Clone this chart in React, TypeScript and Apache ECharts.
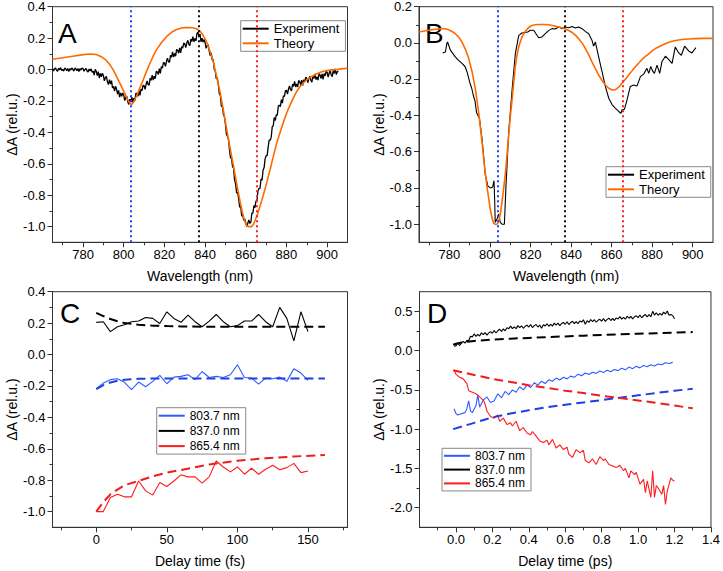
import React, { useEffect, useRef } from 'react';
import * as echarts from 'echarts';

const FONT = '"Liberation Sans", Arial, Helvetica, sans-serif';

// ---------- Panels A / B : spectra ----------
const MARKER_WL = [803.7, 837.0, 865.4];
const MARKER_COLORS = ['#1f3fff', '#111111', '#ff2020'];

const EXP_A_START = 765; // first sample (nm)
const EXP_A_STEP = 0.5;  // sampling (nm)
const EXP_A = [
0.006,-0.009,0.003,0.01,-0.005,-0.011,0.008,-0.002,0.012,-0.007,
0.001,-0.01,0.009,0.004,-0.008,0.006,-0.012,0.005,-0.003,0.01,
0.001,-0.01,0.009,0.004,-0.008,0.006,-0.012,0.005,-0.003,0.01,
0.006,-0.011,0.0,0.007,-0.009,-0.016,0.003,-0.009,0.004,-0.017,
-0.01,-0.035,0.001,-0.012,-0.039,-0.014,-0.054,-0.025,-0.046,-0.024,
-0.038,-0.072,-0.052,-0.043,-0.078,-0.096,-0.064,-0.092,-0.071,-0.117,
-0.108,-0.138,-0.107,-0.125,-0.156,-0.133,-0.176,-0.149,-0.171,-0.149,
-0.163,-0.198,-0.179,-0.17,-0.205,-0.222,-0.189,-0.207,-0.176,-0.207,
-0.183,-0.197,-0.15,-0.154,-0.171,-0.135,-0.164,-0.124,-0.134,-0.101,
-0.103,-0.126,-0.094,-0.073,-0.095,-0.1,-0.054,-0.069,-0.036,-0.067,
-0.043,-0.058,-0.012,-0.015,-0.031,0.006,-0.024,0.018,0.009,0.044,
0.042,0.02,0.051,0.073,0.05,0.046,0.091,0.078,0.112,0.08,
0.102,0.085,0.128,0.123,0.104,0.138,0.106,0.146,0.136,0.168,
0.164,0.139,0.168,0.186,0.16,0.152,0.194,0.178,0.21,0.177,
0.198,0.183,0.228,0.238,0.209,0.226,0.176,0.2,0.174,0.191,
0.172,0.135,0.151,0.158,0.12,0.088,0.106,0.061,0.064,0.001,
-0.008,-0.06,-0.052,-0.097,-0.156,-0.162,-0.234,-0.235,-0.286,-0.299,
-0.348,-0.413,-0.424,-0.445,-0.51,-0.562,-0.564,-0.619,-0.626,-0.704,
-0.728,-0.785,-0.782,-0.822,-0.876,-0.872,-0.934,-0.922,-0.961,-0.951,
-0.978,-0.999,-0.979,-0.957,-0.98,-0.972,-0.914,-0.914,-0.866,-0.879,
-0.838,-0.835,-0.772,-0.757,-0.756,-0.697,-0.704,-0.64,-0.626,-0.569,
-0.548,-0.548,-0.494,-0.45,-0.45,-0.432,-0.364,-0.359,-0.306,-0.324,
-0.288,-0.29,-0.232,-0.227,-0.236,-0.192,-0.214,-0.168,-0.171,-0.134,
-0.133,-0.156,-0.124,-0.104,-0.128,-0.135,-0.092,-0.108,-0.076,-0.111,
-0.092,-0.111,-0.07,-0.078,-0.099,-0.067,-0.101,-0.065,-0.078,-0.049,
-0.056,-0.084,-0.058,-0.042,-0.07,-0.08,-0.04,-0.058,-0.028,-0.064,
-0.046,-0.067,-0.027,-0.035,-0.057,-0.027,-0.062,-0.026,-0.04,-0.012,
-0.019,-0.048,-0.022,-0.007,-0.035,-0.046,-0.006,-0.025,0.005,-0.032,
-0.014,-0.009];

const THEORY_A = [[765,0.065],[770,0.075],[775,0.085],[780,0.095],[783.5,0.099],[786.5,0.096],[789,0.082],[791.5,0.058],[793.5,0.025],[795,-0.005],[796.5,-0.045],[798,-0.085],[799.5,-0.125],[801,-0.165],[802.5,-0.205],[803.8,-0.224],[805,-0.205],[806.3,-0.17],[808,-0.115],[809.6,-0.065],[811.2,-0.012],[812.9,0.04],[814.5,0.085],[816.1,0.125],[818.5,0.17],[821,0.209],[823.5,0.237],[826,0.255],[828.5,0.265],[831,0.268],[834,0.266],[836,0.258],[837.5,0.245],[839,0.218],[840.7,0.177],[842.3,0.12],[844,0.05],[845.6,-0.04],[847.3,-0.14],[849,-0.26],[850.6,-0.38],[852.2,-0.495],[853.9,-0.61],[855.5,-0.725],[857.2,-0.84],[858.5,-0.92],[859.6,-0.97],[860.5,-0.995],[861.3,-1.0],[862.9,-1.0],[863.8,-0.985],[864.6,-0.96],[865.8,-0.92],[867,-0.87],[868.6,-0.8],[870.3,-0.72],[872,-0.635],[873.6,-0.55],[875.2,-0.47],[876.9,-0.4],[878.5,-0.335],[880.1,-0.277],[881.8,-0.225],[883.4,-0.18],[885,-0.14],[886.7,-0.108],[888.3,-0.085],[890,-0.065],[892.5,-0.044],[894.9,-0.027],[897.4,-0.014],[899.8,-0.006],[902,-0.002],[904.7,0.0],[907,0.004],[910,0.008]];

const EXP_B = [[776.7,-0.055],[778.0,-0.05],[778.8,0.0],[779.1,0.005],[780.5,-0.04],[782.9,-0.077],[784.4,-0.095],[786.2,-0.113],[787.7,-0.13],[788.7,-0.16],[790.1,-0.22],[791.0,-0.25],[791.8,-0.29],[792.6,-0.32],[793.4,-0.385],[794.8,-0.415],[796.1,-0.53],[797.0,-0.64],[797.7,-0.73],[799.0,-0.79],[800.2,-0.8],[801.3,-0.795],[802.0,-0.76],[802.3,-0.86],[802.6,-0.99],[803.5,-0.97],[804.3,-0.945],[805.1,-0.99],[805.9,-1.0],[807.1,-1.0],[807.9,-0.79],[809.2,-0.5],[810.9,-0.26],[812.5,-0.06],[814.2,0.042],[815.8,0.055],[817.4,0.058],[818.6,0.06],[819.9,0.07],[821.6,0.07],[822.7,0.051],[824.0,0.029],[825.7,0.033],[827.3,0.051],[828.9,0.068],[830.6,0.079],[832.2,0.077],[833.9,0.088],[835.5,0.079],[837.2,0.088],[838.8,0.084],[840.5,0.091],[842.1,0.082],[843.7,0.088],[845.4,0.079],[847.0,0.064],[848.7,0.051],[850.3,0.015],[851.1,-0.018],[852.0,0.005],[853.6,-0.077],[855.3,-0.16],[856.9,-0.24],[858.6,-0.305],[860.2,-0.34],[861.8,-0.36],[863.5,-0.378],[864.6,-0.388],[865.1,-0.37],[866.3,-0.366],[867.6,-0.314],[869.2,-0.24],[870.9,-0.232],[872.5,-0.238],[874.2,-0.186],[875.8,-0.172],[877.4,-0.14],[878.3,-0.168],[879.3,-0.13],[880.2,-0.154],[881.1,-0.168],[882.4,-0.122],[883.7,-0.168],[884.8,-0.104],[886.5,-0.073],[888.1,-0.091],[889.8,-0.113],[891.4,-0.022],[893.1,-0.055],[894.4,-0.068],[896.0,-0.018],[898.0,-0.044],[899.6,-0.055],[901.6,-0.026]];

const THEORY_B = [[765,0.06],[769.8,0.07],[773,0.076],[776.3,0.079],[778,0.078],[779.6,0.073],[781.3,0.063],[782.9,0.051],[784.6,0.032],[786.2,0.005],[787.9,-0.035],[789.5,-0.085],[791.2,-0.16],[792.8,-0.255],[794.5,-0.39],[796.1,-0.55],[797.3,-0.68],[798.5,-0.79],[799.4,-0.86],[800.2,-0.92],[801,-0.965],[801.8,-0.995],[802.6,-1.0],[803.5,-1.0],[804.1,-0.99],[804.6,-0.97],[805.3,-0.93],[805.9,-0.88],[806.8,-0.8],[807.6,-0.72],[808.4,-0.62],[809.2,-0.515],[810,-0.41],[810.9,-0.314],[811.7,-0.22],[812.5,-0.13],[813.3,-0.07],[814.2,-0.022],[815,0.008],[815.8,0.033],[817.4,0.064],[819.1,0.085],[820.7,0.096],[822.4,0.1],[824,0.102],[826.5,0.102],[828.9,0.1],[831.4,0.095],[833.9,0.088],[835.5,0.084],[837.2,0.077],[838.8,0.069],[840.5,0.058],[842.1,0.043],[843.7,0.024],[845.4,0.0],[847,-0.03],[848.7,-0.065],[850.3,-0.104],[852,-0.142],[853.6,-0.177],[855.3,-0.207],[856.9,-0.232],[858.6,-0.25],[860.2,-0.26],[861.4,-0.26],[862.6,-0.252],[863.9,-0.24],[865.1,-0.223],[866.8,-0.2],[868.4,-0.177],[870.1,-0.154],[871.7,-0.132],[873.4,-0.111],[875,-0.091],[876.7,-0.074],[878.3,-0.06],[880,-0.044],[881.6,-0.031],[884.8,-0.013],[887.3,0.0],[889.8,0.009],[892.3,0.015],[894.7,0.019],[898,0.022],[901.3,0.024],[905,0.025],[910,0.025]];

// ---------- Panel C : femtosecond kinetics ----------
const C_TIME = [0,5,10,15,20,25,30,35,40,45,50,55,60,65,70,75,80,85,90,95,100,105,110,115,120,125,130,135,140,145,150];
const C_803 = [-0.217,-0.182,-0.16,-0.154,-0.177,-0.224,-0.175,-0.205,-0.171,-0.133,-0.186,-0.144,-0.139,-0.129,-0.16,-0.108,-0.146,-0.139,-0.146,-0.129,-0.065,-0.146,-0.15,-0.188,-0.15,-0.154,-0.144,-0.171,-0.091,-0.118,-0.165];
const C_837 = [0.205,0.209,0.146,0.177,0.19,0.209,0.213,0.236,0.23,0.198,0.272,0.23,0.205,0.251,0.209,0.177,0.213,0.255,0.209,0.177,0.184,0.213,0.213,0.255,0.209,0.177,0.3,0.23,0.087,0.272,0.146];
const C_865 = [-1.0,-1.0,-0.91,-0.889,-0.906,-0.906,-0.805,-0.868,-0.895,-0.815,-0.84,-0.805,-0.766,-0.779,-0.779,-0.819,-0.779,-0.678,-0.716,-0.747,-0.716,-0.762,-0.724,-0.762,-0.73,-0.705,-0.734,-0.72,-0.693,-0.752,-0.741];
const C_FIT_TIME = [0,5,10,15,20,30,40,50,60,80,100,120,140,162];
const C_FIT_803 = [-0.22,-0.195,-0.178,-0.167,-0.16,-0.155,-0.153,-0.152,-0.152,-0.152,-0.152,-0.152,-0.152,-0.152];
const C_FIT_837 = [0.265,0.245,0.226,0.212,0.2,0.19,0.184,0.181,0.179,0.177,0.177,0.177,0.177,0.177];
const C_FIT_865 = [-1.0,-0.94,-0.89,-0.86,-0.832,-0.805,-0.775,-0.752,-0.735,-0.7,-0.676,-0.661,-0.649,-0.64];

// ---------- Panel D : picosecond kinetics ----------
const D_837_START = -0.01; // ps, 0.01 ps sampling
const D_837_STEP = 0.01;
const D_837 = [
0.055,0.06,0.097,0.065,0.095,0.118,0.095,0.13,0.125,0.182,
0.175,0.212,0.182,0.206,0.186,0.226,0.202,0.228,0.198,0.226,
0.241,0.22,0.256,0.224,0.253,0.272,0.245,0.276,0.252,0.29,
0.279,0.312,0.28,0.302,0.28,0.318,0.292,0.316,0.284,0.31,
0.323,0.3,0.331,0.294,0.318,0.332,0.3,0.326,0.285,0.33,
0.314,0.342,0.31,0.333,0.312,0.35,0.325,0.349,0.318,0.344,
0.358,0.335,0.368,0.332,0.358,0.373,0.343,0.37,0.343,0.377,
0.363,0.392,0.335,0.381,0.359,0.396,0.37,0.393,0.361,0.386,
0.399,0.375,0.408,0.372,0.398,0.413,0.383,0.41,0.383,0.417,
0.403,0.432,0.4,0.422,0.4,0.438,0.412,0.436,0.404,0.43,
0.443,0.42,0.453,0.418,0.444,0.46,0.43,0.458,0.431,0.5,
0.452,0.482,0.45,0.473,0.452,0.49,0.465,0.505,0.45,0.459,
0.445,0.405];
const D_803 = [[-0.01,-0.74],[0.0,-0.8],[0.01,-0.82],[0.03,-0.805],[0.05,-0.79],[0.06,-0.74],[0.07,-0.64],[0.08,-0.77],[0.09,-0.79],[0.11,-0.7],[0.12,-0.56],[0.13,-0.72],[0.15,-0.63],[0.17,-0.59],[0.19,-0.66],[0.21,-0.64],[0.23,-0.55],[0.25,-0.6],[0.27,-0.52],[0.29,-0.56],[0.31,-0.5],[0.33,-0.53],[0.35,-0.46],[0.37,-0.5],[0.39,-0.44],[0.41,-0.47],[0.43,-0.41],[0.45,-0.44],[0.47,-0.39],[0.49,-0.42],[0.51,-0.37],[0.53,-0.39],[0.55,-0.35],[0.57,-0.375],[0.59,-0.34],[0.61,-0.36],[0.63,-0.325],[0.65,-0.34],[0.67,-0.3],[0.69,-0.32],[0.71,-0.285],[0.73,-0.305],[0.75,-0.275],[0.77,-0.29],[0.79,-0.26],[0.81,-0.28],[0.83,-0.25],[0.85,-0.27],[0.87,-0.24],[0.89,-0.255],[0.91,-0.225],[0.93,-0.245],[0.95,-0.21],[0.97,-0.23],[0.99,-0.2],[1.01,-0.22],[1.03,-0.19],[1.05,-0.205],[1.07,-0.18],[1.09,-0.195],[1.11,-0.17],[1.13,-0.18],[1.15,-0.155],[1.17,-0.165],[1.19,-0.15]];
const D_865 = [[-0.01,-0.25],[0.0,-0.3],[0.02,-0.34],[0.04,-0.36],[0.06,-0.42],[0.07,-0.51],[0.09,-0.53],[0.11,-0.55],[0.13,-0.59],[0.15,-0.63],[0.16,-0.68],[0.17,-0.77],[0.19,-0.84],[0.21,-0.86],[0.23,-0.82],[0.24,-0.9],[0.26,-0.86],[0.28,-0.94],[0.3,-0.92],[0.31,-0.96],[0.33,-0.9],[0.35,-1.02],[0.37,-0.98],[0.39,-1.05],[0.41,-1.07],[0.42,-1.03],[0.44,-1.09],[0.46,-1.15],[0.48,-1.17],[0.5,-1.14],[0.51,-1.2],[0.53,-1.13],[0.55,-1.24],[0.57,-1.2],[0.59,-1.26],[0.61,-1.23],[0.62,-1.32],[0.64,-1.36],[0.66,-1.26],[0.68,-1.3],[0.7,-1.27],[0.71,-1.4],[0.73,-1.43],[0.75,-1.38],[0.77,-1.45],[0.79,-1.35],[0.81,-1.4],[0.82,-1.38],[0.84,-1.45],[0.86,-1.47],[0.88,-1.49],[0.9,-1.46],[0.92,-1.53],[0.93,-1.5],[0.95,-1.62],[0.96,-1.53],[0.98,-1.58],[0.99,-1.55],[1.01,-1.7],[1.03,-1.64],[1.04,-1.81],[1.05,-1.66],[1.07,-1.87],[1.08,-1.53],[1.09,-1.87],[1.1,-1.72],[1.11,-1.75],[1.13,-1.83],[1.14,-1.72],[1.15,-1.96],[1.16,-1.79],[1.18,-1.62],[1.19,-1.65],[1.2,-1.66]];
const D_FIT_837 = [[-0.015,0.075],[0.0,0.088],[0.03,0.102],[0.06,0.112],[0.1,0.123],[0.2,0.14],[0.3,0.152],[0.4,0.162],[0.5,0.172],[0.6,0.181],[0.7,0.19],[0.8,0.199],[0.9,0.207],[1.0,0.215],[1.1,0.222],[1.2,0.229],[1.3,0.236]];
const D_FIT_803 = [[-0.015,-1.0],[0.1,-0.92],[0.2,-0.85],[0.3,-0.8],[0.4,-0.76],[0.5,-0.72],[0.6,-0.69],[0.7,-0.66],[0.8,-0.63],[0.9,-0.6],[1.0,-0.57],[1.1,-0.54],[1.2,-0.51],[1.3,-0.487]];
const D_FIT_865 = [[-0.015,-0.25],[0.1,-0.31],[0.2,-0.36],[0.3,-0.4],[0.4,-0.44],[0.5,-0.475],[0.6,-0.51],[0.7,-0.54],[0.8,-0.575],[0.9,-0.605],[1.0,-0.635],[1.1,-0.665],[1.2,-0.7],[1.3,-0.735]];

// ---------- Axis tick labels ----------
const WL_TICKS = [780, 800, 820, 840, 860, 880, 900];
const WL_MINOR = [770, 790, 810, 830, 850, 870, 890];
const AY_TICKS = [0.4, 0.2, 0.0, -0.2, -0.4, -0.6, -0.8, -1.0];
const AY_MINOR = [0.3, 0.1, -0.1, -0.3, -0.5, -0.7, -0.9];
const BY_TICKS = [0.2, 0.0, -0.2, -0.4, -0.6, -0.8, -1.0];
const BY_MINOR = [0.1, -0.1, -0.3, -0.5, -0.7, -0.9];
const CX_TICKS = [0, 50, 100, 150];
const CX_MINOR = [-25, 25, 75, 125, 175];
const DX_TICKS = [0.0, 0.2, 0.4, 0.6, 0.8, 1.0, 1.2, 1.4];
const DX_MINOR = [-0.1, 0.1, 0.3, 0.5, 0.7, 0.9, 1.1, 1.3];
const DY_TICKS = [0.5, 0.0, -0.5, -1.0, -1.5, -2.0];
const DY_MINOR = [0.25, -0.25, -0.75, -1.25, -1.75];

const AXIS_COLOR = '#333';

function xAxes(g: number, min: number, max: number, ticks: number[], minor: number[], name: string, fmt: (v: number) => string) {
  return [
    {
      type: 'value', gridIndex: g, min, max, position: 'bottom',
      axisLine: { show: true, onZero: false, lineStyle: { color: AXIS_COLOR, width: 1 } },
      axisTick: { show: true, inside: false, length: 5, customValues: ticks, lineStyle: { color: AXIS_COLOR } },
      axisLabel: { customValues: ticks, formatter: fmt, fontSize: 13, color: '#000', margin: 6, fontFamily: FONT },
      splitLine: { show: false },
      name, nameLocation: 'middle', nameGap: 27,
      nameTextStyle: { fontSize: 14, color: '#000', fontFamily: FONT },
    },
    {
      type: 'value', gridIndex: g, min, max, position: 'bottom',
      axisLine: { show: false, onZero: false },
      axisTick: { show: true, inside: false, length: 3, customValues: minor, lineStyle: { color: AXIS_COLOR } },
      axisLabel: { show: false },
      splitLine: { show: false },
    },
  ];
}

function yAxes(g: number, min: number, max: number, ticks: number[], minor: number[], nameGap: number) {
  return [
    {
      type: 'value', gridIndex: g, min, max, position: 'left',
      axisLine: { show: true, onZero: false, lineStyle: { color: AXIS_COLOR, width: 1 } },
      axisTick: { show: true, inside: false, length: 5, customValues: ticks, lineStyle: { color: AXIS_COLOR } },
      axisLabel: { customValues: ticks, formatter: (v: number) => v.toFixed(1), fontSize: 13, color: '#000', margin: 7, fontFamily: FONT },
      splitLine: { show: false },
      name: 'ΔA (rel.u.)', nameLocation: 'middle', nameGap,
      nameTextStyle: { fontSize: 14, color: '#000', fontFamily: FONT },
    },
    {
      type: 'value', gridIndex: g, min, max, position: 'left',
      axisLine: { show: false, onZero: false },
      axisTick: { show: true, inside: false, length: 3, customValues: minor, lineStyle: { color: AXIS_COLOR } },
      axisLabel: { show: false },
      splitLine: { show: false },
    },
  ];
}

function line(name: string, g: number, data: number[][], color: string, width: number, dashed = false, extra: any = {}) {
  return {
    type: 'line', name, xAxisIndex: g * 2, yAxisIndex: g * 2, data,
    symbol: 'none', showSymbol: false, clip: true, silent: true,
    lineStyle: { color, width, type: dashed ? [9, 5] : 'solid' },
    itemStyle: { color },
    ...extra,
  };
}

function markers() {
  return {
    symbol: 'none', silent: true, animation: false,
    label: { show: false },
    data: MARKER_WL.map((wl, i) => ({ xAxis: wl, lineStyle: { color: MARKER_COLORS[i], type: [2, 3], width: 2 } })),
  };
}

function legend(left: number, top: number, names: string[], fontSize: number, itemHeight: number, itemGap: number) {
  return {
    show: true, orient: 'vertical', left, top, data: names,
    borderColor: '#888', borderWidth: 1, borderRadius: 0,
    padding: [1, 6, 1, 1], itemGap, itemWidth: 26, itemHeight,
    selectedMode: false,
    itemStyle: { opacity: 0, borderWidth: 0 },
    textStyle: { fontSize, color: '#000', fontFamily: FONT, lineHeight: itemHeight },
  };
}

export default function App() {
  const ref = useRef<HTMLDivElement>(null);
  useEffect(() => {
    if (!ref.current) return;
    const chart = echarts.init(ref.current, undefined, { renderer: 'svg' });
    const expA = EXP_A.map((v, i) => [EXP_A_START + i * EXP_A_STEP, v]);
    const d837 = D_837.map((v, i) => [D_837_START + i * D_837_STEP, v]);
    const pair = (t: number[], v: number[]) => t.map((x, i) => [x, v[i]]);
    const wlFmt = (v: number) => String(Math.round(v));
    const fsFmt = (v: number) => String(Math.round(v));
    const psFmt = (v: number) => v.toFixed(1);
    const BLUE = '#2f5bff';
    const RED = '#ff1c1c';
    const ORANGE = '#ff6a00';

    const option: any = {
      animation: false,
      backgroundColor: '#fff',
      grid: [
        { left: 52.5, top: 6.7, width: 295, height: 235.6, show: true, borderColor: AXIS_COLOR, borderWidth: 1, backgroundColor: 'transparent' },
        { left: 419, top: 6.7, width: 294, height: 235.6, show: true, borderColor: AXIS_COLOR, borderWidth: 1, backgroundColor: 'transparent' },
        { left: 52.5, top: 291.7, width: 295, height: 235.6, show: true, borderColor: AXIS_COLOR, borderWidth: 1, backgroundColor: 'transparent' },
        { left: 419.5, top: 291.7, width: 294, height: 235.6, show: true, borderColor: AXIS_COLOR, borderWidth: 1, backgroundColor: 'transparent' },
      ],
      xAxis: [
        ...xAxes(0, 765, 910, WL_TICKS, WL_MINOR, 'Wavelength (nm)', wlFmt),
        ...xAxes(1, 765, 910, WL_TICKS, WL_MINOR, 'Wavelength (nm)', wlFmt),
        ...xAxes(2, -31, 178, CX_TICKS, CX_MINOR, 'Delay time (fs)', fsFmt),
        ...xAxes(3, -0.2, 1.4, DX_TICKS, DX_MINOR, 'Delay time (ps)', psFmt),
      ],
      yAxis: [
        ...yAxes(0, -1.1, 0.4, AY_TICKS, AY_MINOR, 27),
        ...yAxes(1, -1.1, 0.2, BY_TICKS, BY_MINOR, 27),
        ...yAxes(2, -1.1, 0.4, AY_TICKS, AY_MINOR, 27),
        ...yAxes(3, -2.25, 0.75, DY_TICKS, DY_MINOR, 31),
      ],
      legend: [
        legend(240.7, 20.7, ['Experiment', 'Theory'], 13, 14, 0.6),
        legend(606, 166.7, ['Experiment', 'Theory'], 13, 14, 0.6),
        legend(156.7, 407.7, ['803.7 nm', '837.0 nm', '865.4 nm'], 12, 14, 1.2),
        legend(442, 448.3, ['803.7 nm', '837.0 nm', '865.4 nm'], 12, 13, 0.8),
      ],
      series: [
        line('Experiment', 0, expA, '#000', 1.3, false, { markLine: markers() }),
        line('Theory', 0, THEORY_A, ORANGE, 1.6),
        line('Experiment', 1, EXP_B, '#000', 1.1, false, { markLine: markers() }),
        line('Theory', 1, THEORY_B, ORANGE, 1.6),

        line('837.0 nm', 2, pair(C_TIME, C_837), '#000', 1.1),
        line('803.7 nm', 2, pair(C_TIME, C_803), BLUE, 1.1),
        line('865.4 nm', 2, pair(C_TIME, C_865), RED, 1.1),
        line('fit837C', 2, pair(C_FIT_TIME, C_FIT_837), '#000', 2, true),
        line('fit803C', 2, pair(C_FIT_TIME, C_FIT_803), '#1f3fe0', 2, true),
        line('fit865C', 2, pair(C_FIT_TIME, C_FIT_865), '#ee1c1c', 2, true),

        line('837.0 nm', 3, d837, '#000', 1.1),
        line('803.7 nm', 3, D_803, BLUE, 1.1),
        line('865.4 nm', 3, D_865, RED, 1.1),
        line('fit837D', 3, D_FIT_837, '#000', 2, true),
        line('fit803D', 3, D_FIT_803, '#1f3fe0', 2, true),
        line('fit865D', 3, D_FIT_865, '#ee1c1c', 2, true),
      ],
      graphic: [
        { type: 'text', left: 58, top: 19, style: { text: 'A', fontSize: 28, fontFamily: FONT, fill: '#000' } },
        { type: 'text', left: 425, top: 19, style: { text: 'B', fontSize: 28, fontFamily: FONT, fill: '#000' } },
        { type: 'text', left: 60, top: 299, style: { text: 'C', fontSize: 28, fontFamily: FONT, fill: '#000' } },
        { type: 'text', left: 427, top: 299, style: { text: 'D', fontSize: 28, fontFamily: FONT, fill: '#000' } },
      ],
    };
    chart.setOption(option);
    return () => chart.dispose();
  }, []);
  return <div ref={ref} style={{ position: 'fixed', left: 0, top: 0, width: 723, height: 571, background: '#fff' }} />;
}
